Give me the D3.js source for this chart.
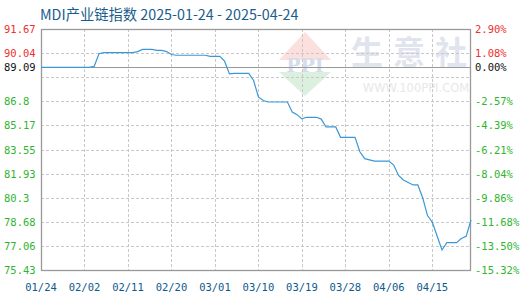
<!DOCTYPE html>
<html><head><meta charset="utf-8">
<script src="https://cdn.jsdelivr.net/npm/d3@7"></script>
<style>body{margin:0;background:#fff}svg{display:block}</style>
</head><body>
<svg id="c" width="520" height="300"></svg>
<script>
const title = "MDI产业链指数 2025-01-24 - 2025-04-24";
const startDate = "2025-01-24";
const endDate = "2025-04-23";
const values = [
 89.09,89.09,89.09,89.09,89.09,89.09,89.09,89.09,89.09,89.09,89.09,
 89.15,90.0,
 90.08,90.08,90.08,90.08,90.08,90.08,90.08,
 90.15,90.30,90.30,90.30,90.23,90.23,90.15,89.95,
 89.90,89.90,89.90,89.90,89.90,89.90,89.90,
 89.83,89.83,89.83,89.5,88.64,
 88.68,88.68,88.68,88.68,88.2,87.09,86.85,
 86.75,86.75,86.75,86.75,86.75,86.08,85.9,85.61,
 85.72,85.72,85.72,85.6,85.07,85.07,85.07,
 84.37,84.37,84.37,84.37,83.4,82.93,82.85,
 82.77,82.77,82.77,82.77,82.5,81.8,81.5,81.33,81.16,81.16,
 80.3,79.1,78.65,77.7,76.78,77.27,77.27,77.27,77.55,77.7,78.8
];
const baseValue = 89.09;
const leftTicks = [91.67,90.04,88.42,86.8,85.17,83.55,81.93,80.3,78.68,77.06,75.43];
const leftLabels = ["91.67","90.04","","86.8","85.17","83.55","81.93","80.3","78.68","77.06","75.43"];
const rightLabels = ["2.90%","1.08%","","-2.57%","-4.39%","-6.21%","-8.04%","-9.86%","-11.68%","-13.50%","-15.32%"];
const xTickDates = ["2025-01-24","2025-02-02","2025-02-11","2025-02-20","2025-03-01","2025-03-10","2025-03-19","2025-03-28","2025-04-06","2025-04-15"];
const xTickLabels = ["01/24","02/02","02/11","02/20","03/01","03/10","03/19","03/28","04/06","04/15"];

const parse = d3.utcParse("%Y-%m-%d");
const start = parse(startDate);
const data = values.map((v,i)=>({date:d3.utcDay.offset(start,i), v}));

const L=41, R=471, T=29, B=270;
const x = d3.scaleUtc().domain([start, parse(endDate)]).range([L,R]);
const y = d3.scaleLinear().domain([75.43,91.67]).range([B,T]);

const svg = d3.select("#c");
const monoFont = "'DejaVu Sans Mono', monospace";

// watermark
const wm = svg.append("g");
wm.append("path").attr("d","M305,32 L331,60 L279,60 Z").attr("fill","#fbe0de");
wm.append("path").attr("d","M279,72 L331,72 L305,96 Z").attr("fill","#dcf0e0");
wm.append("text").attr("x",305).attr("y",72).attr("text-anchor","middle")
  .attr("font-family","'DejaVu Serif', serif").attr("font-weight","bold").attr("font-size",19)
  .attr("fill","#d5dcea").text("PPI");
wm.append("text").attr("x",414).attr("y",64).attr("text-anchor","middle")
  .attr("font-family","'Noto Sans CJK SC'").attr("font-weight","bold").attr("font-size",32)
  .attr("letter-spacing",10).attr("fill","#dfe4ee").text("生意社");
wm.append("text").attr("x",416).attr("y",92).attr("text-anchor","middle")
  .attr("font-family","'DejaVu Sans', sans-serif").attr("font-size",11.5)
  .attr("fill","#e8e8e8").text("WWW.100PPI.COM");

// horizontal grid
svg.append("g").selectAll("line").data(leftTicks.filter(t=>t!==baseValue && t!==91.67 && t!==75.43)).join("line")
  .attr("x1",L).attr("x2",R)
  .attr("y1",d=>Math.round(y(d))+0.5).attr("y2",d=>Math.round(y(d))+0.5)
  .attr("stroke","#c8c8c8").attr("stroke-dasharray","3,2");

// vertical grid
svg.append("g").selectAll("line").data(xTickDates.slice(1)).join("line")
  .attr("x1",d=>Math.round(x(parse(d)))+0.5).attr("x2",d=>Math.round(x(parse(d)))+0.5)
  .attr("y1",T).attr("y2",B)
  .attr("stroke","#c8c8c8").attr("stroke-dasharray","3,2");

// baseline
svg.append("line").attr("x1",L).attr("x2",R)
  .attr("y1",Math.round(y(baseValue))+0.5).attr("y2",Math.round(y(baseValue))+0.5)
  .attr("stroke","#999").attr("stroke-width",1.2);

// frame
svg.append("rect").attr("x",L+0.5).attr("y",T+0.5).attr("width",R-L-1).attr("height",B-T)
  .attr("fill","none").attr("stroke","#999").attr("stroke-width",1.3);

// line
const line = d3.line().x(d=>x(d.date)).y(d=>y(d.v));
svg.append("path").datum(data).attr("d",line).attr("fill","none")
  .attr("stroke","#3a98d8").attr("stroke-width",1.2);

// left labels
const col = v => v>baseValue ? "#f0302c" : (v<baseValue ? "#2fb52f" : "#111");
const yAll = leftTicks.concat([baseValue]);
const lLab = leftLabels.concat(["89.09"]);
const rLab = rightLabels.concat(["0.00%"]);
svg.append("g").selectAll("text").data(yAll).join("text")
  .attr("x",4).attr("y",d=>y(d)+4)
  .attr("font-family",monoFont).attr("font-size",10.5)
  .attr("fill",d=>col(d)).text((d,i)=>lLab[i]);
svg.append("g").selectAll("text").data(yAll).join("text")
  .attr("x",475).attr("y",d=>y(d)+4)
  .attr("font-family",monoFont).attr("font-size",10.5)
  .attr("fill",d=>col(d)).text((d,i)=>rLab[i]);

// x labels
svg.append("g").selectAll("text").data(xTickDates).join("text")
  .attr("x",d=>x(parse(d))).attr("y",291).attr("text-anchor","middle")
  .attr("font-family",monoFont).attr("font-size",10.5)
  .attr("fill","#0d5a8c").text((d,i)=>xTickLabels[i]);

// title
svg.append("text").attr("x",40).attr("y",20)
  .attr("font-family","'Noto Sans CJK SC', 'DejaVu Sans', sans-serif").attr("font-size",14.3)
  .attr("fill","#1a5d8c").text(title);
</script>
</body></html>
